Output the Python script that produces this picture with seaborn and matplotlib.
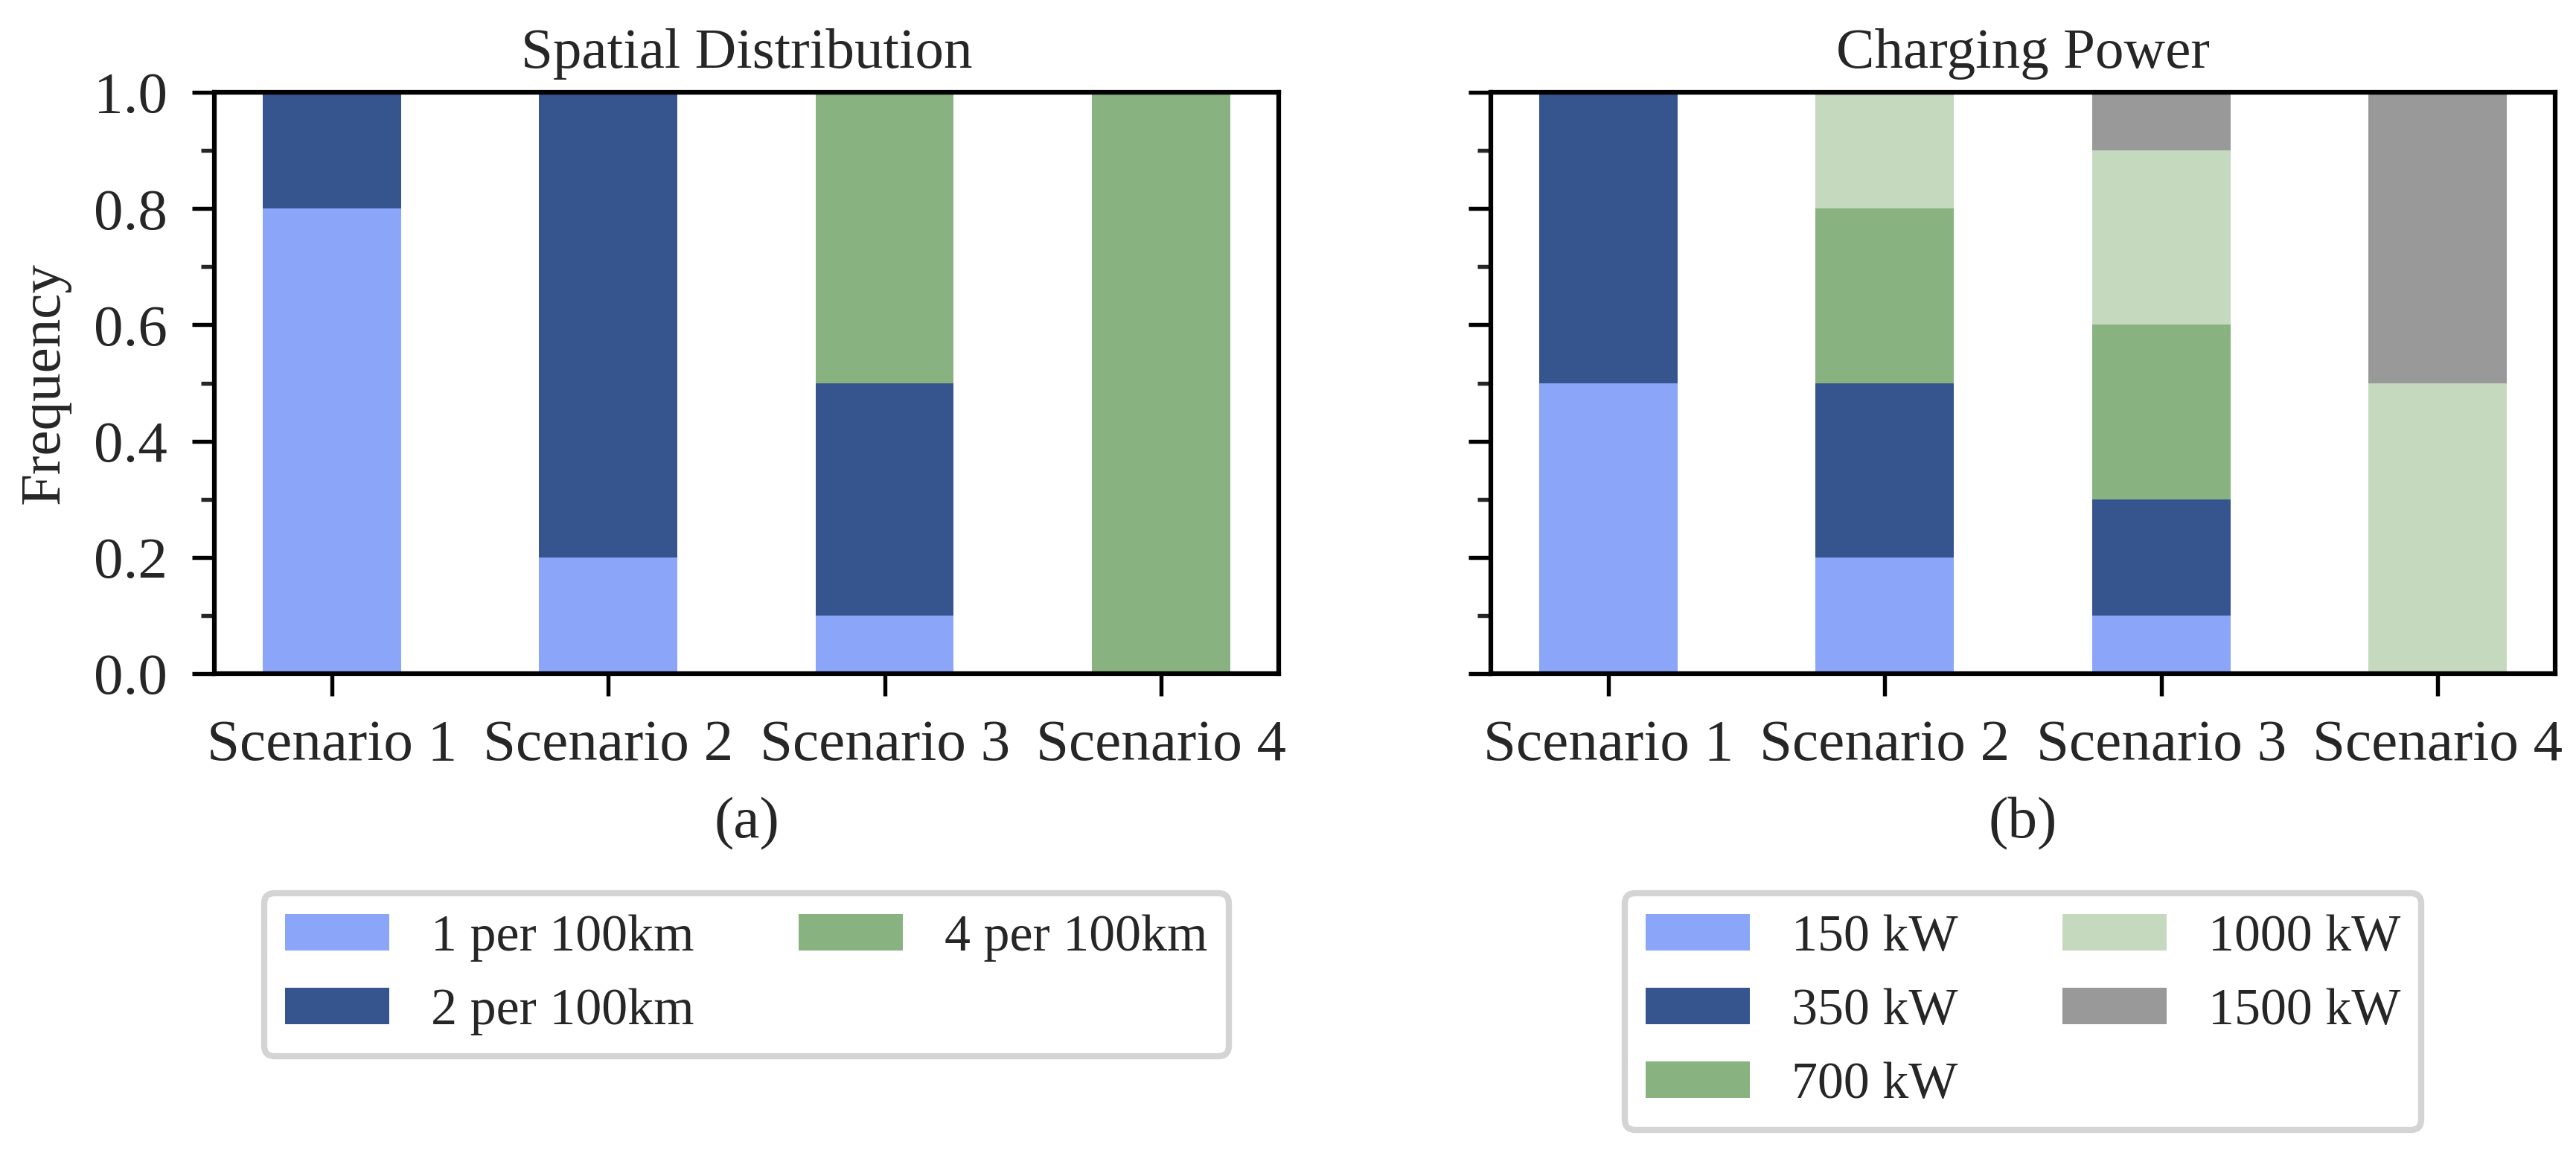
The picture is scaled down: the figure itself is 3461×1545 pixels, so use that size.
import numpy as np
import pandas as pd
import matplotlib
matplotlib.use('Agg')
import matplotlib.pyplot as plt
from matplotlib.ticker import MultipleLocator
import seaborn as sns


scenarios = ['Scenario 1', 'Scenario 2', 'Scenario 3', 'Scenario 4']

# panel (a) - spatial distribution of stations
spatial_labels = ['1 per 100km', '2 per 100km', '4 per 100km']
spatial_1 = [0.8, 0.2, 0.1, 0.0]
spatial_2 = [0.2, 0.8, 0.4, 0.0]
spatial_4 = [0.0, 0.0, 0.5, 1.0]

# panel (b) - charging power
power_labels = ['150 kW', '350 kW', '700 kW', '1000 kW', '1500 kW']
power_150 = [0.5, 0.2, 0.1, 0.0]
power_350 = [0.5, 0.3, 0.2, 0.0]
power_700 = [0.0, 0.3, 0.3, 0.0]
power_1000 = [0.0, 0.2, 0.3, 0.5]
power_1500 = [0.0, 0.0, 0.1, 0.5]

colors = ['#8ba5f8', '#36558f', '#88b27f', '#c4d9be', '#999999']

FS = 19
LEG_FS = 16.8


def stacked_bars(ax, series, labels, cols):
    df = pd.DataFrame(dict(zip(labels, series)), index=scenarios)
    cum = df.cumsum(axis=1)
    # draw tallest cumulative bar first, smaller ones on top
    for lab, c in zip(labels[::-1], cols[::-1]):
        sns.barplot(x=scenarios, y=cum[lab].values, color=c, width=0.5,
                    saturation=1, linewidth=0, label=lab, ax=ax)
    handles, labs = ax.get_legend_handles_labels()
    return handles[::-1], labs[::-1]


def style_axes(ax):
    ax.set_xlim(-0.425, 3.425)
    ax.set_ylim(0, 1.0)
    ax.yaxis.set_major_locator(MultipleLocator(0.2))
    ax.yaxis.set_minor_locator(MultipleLocator(0.1))
    ax.tick_params(axis='both', which='major', length=7.2, width=1.3,
                   labelsize=FS, pad=8, color='black')
    ax.tick_params(axis='x', which='major', pad=7.5)
    ax.tick_params(axis='y', which='minor', length=4.3, width=1.3)
    for sp in ax.spines.values():
        sp.set_linewidth(1.5)
        sp.set_color('black')
        sp.set_visible(True)


sns.set_style('ticks')
plt.rcParams['font.family'] = ['Liberation Serif', 'DejaVu Serif']

fig = plt.figure(figsize=(11.54, 5.15), dpi=300)
ax1 = fig.add_axes([0.0832, 0.4142, 0.413, 0.5055])
ax2 = fig.add_axes([0.5786, 0.4142, 0.413, 0.5055])

h1, l1 = stacked_bars(ax1, [spatial_1, spatial_2, spatial_4], spatial_labels, colors[:3])
h2, l2 = stacked_bars(ax2, [power_150, power_350, power_700, power_1000, power_1500],
                      power_labels, colors)

for ax in (ax1, ax2):
    style_axes(ax)

ax1.set_title('Spatial Distribution', fontsize=18.5, pad=8)
ax2.set_title('Charging Power', fontsize=18.5, pad=8)
ax1.set_ylabel('Frequency', fontsize=18.5, labelpad=7.5)
ax2.set_ylabel('')
ax2.tick_params(axis='y', labelleft=False)
ax1.set_xlabel('(a)', fontsize=FS, labelpad=8)
ax2.set_xlabel('(b)', fontsize=FS, labelpad=8)

for ax, h, l in ((ax1, h1, l1), (ax2, h2, l2)):
    leg = ax.legend(h, l, loc='upper center', bbox_to_anchor=(0.5, -0.333),
                    ncol=2, fontsize=LEG_FS, frameon=True, fancybox=True,
                    labelspacing=0.5, handlelength=2.0, handleheight=0.7,
                    handletextpad=0.8, columnspacing=2.0, borderpad=0.4)
    leg.get_frame().set_edgecolor('#d4d4d4')
    leg.get_frame().set_linewidth(2.0)
    leg.get_frame().set_alpha(1)

fig.savefig('out.png', dpi=300, facecolor='white')
